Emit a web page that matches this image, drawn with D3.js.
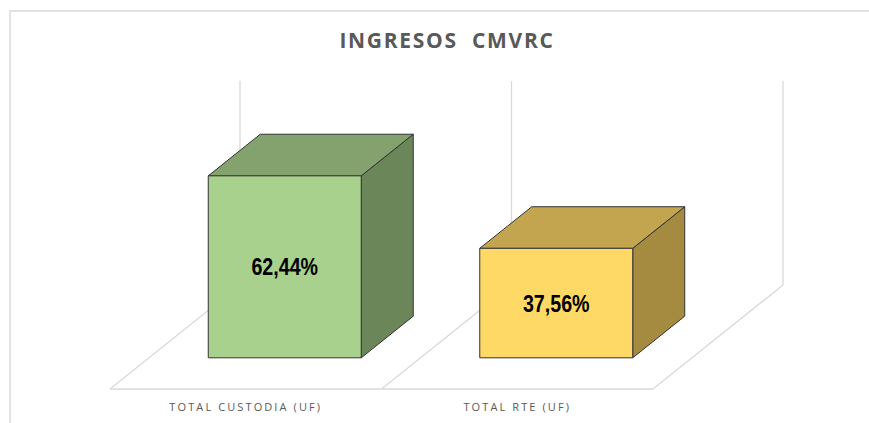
<!DOCTYPE html>
<html>
<head>
<meta charset="utf-8">
<script src="https://cdn.jsdelivr.net/npm/d3@7"></script>
<style>
  html, body { margin: 0; padding: 0; background: #fff; }
  svg { display: block; }
</style>
</head>
<body>
<script>
// Data
var categories = ["TOTAL CUSTODIA (UF)", "TOTAL RTE (UF)"];
var shares = [62.44, 37.56];
var shareLabels = ["62,44%", "37,56%"];
var frontColors = ["#a9d18e", "#ffd966"];
var topColors = ["#84a26e", "#c2a54e"];
var sideColors = ["#6b8759", "#a48b3f"];
var axisMax = 70;

var width = 869, height = 423;

var svg = d3.select("body").append("svg")
    .attr("width", width)
    .attr("height", height);

// chart area border (only top and left show in the crop)
svg.append("path")
    .attr("d", "M10,430 L10,11 L880,11")
    .attr("fill", "none")
    .attr("stroke", "#d9d9d9")
    .attr("stroke-width", 1.5);

// oblique 3d projection: x along floor front, h = value height, z = depth 0..1
var floorY = 389;
var depthX = 130, depthY = 104;
function project(x, h, z) {
  return [x + z * depthX, floorY - h - z * depthY];
}

var x = d3.scaleBand()
    .domain(categories)
    .range([110, 653])
    .paddingInner(0.4365)
    .paddingOuter(0.4365 / 2);

var y = d3.scaleLinear()
    .domain([0, axisMax])
    .range([0, 204]);

var line = d3.line();
var step = x.step();
var bounds = [110, 110 + step, 653];

// floor and back wall lines
var grid = svg.append("g")
    .attr("fill", "none")
    .attr("stroke", "#d9d9d9")
    .attr("stroke-width", 1.3);

grid.append("path").attr("d", line([project(110, 0, 0), project(653, 0, 0)]));
bounds.forEach(function(b) {
  grid.append("path").attr("d", line([project(b, 0, 0), project(b, 0, 1)]));
  grid.append("path").attr("d", line([project(b, 0, 1), project(b, y(axisMax), 1)]));
});

// 3d bars
var z0 = 0.3, z1 = 0.7;
var bars = svg.selectAll(".bar")
    .data(categories)
    .enter()
    .append("g")
      .attr("class", "bar")
      .attr("stroke", "#333")
      .attr("stroke-width", 1)
      .attr("stroke-linejoin", "round");

bars.each(function(c, i) {
  var g = d3.select(this);
  var xl = x(c), xr = x(c) + x.bandwidth(), h = y(shares[i]);
  // side
  g.append("path")
      .attr("fill", sideColors[i])
      .attr("d", line([project(xr, 0, z0), project(xr, 0, z1), project(xr, h, z1), project(xr, h, z0)]) + "Z");
  // top
  g.append("path")
      .attr("fill", topColors[i])
      .attr("d", line([project(xl, h, z0), project(xl, h, z1), project(xr, h, z1), project(xr, h, z0)]) + "Z");
  // front
  g.append("path")
      .attr("fill", frontColors[i])
      .attr("d", line([project(xl, 0, z0), project(xr, 0, z0), project(xr, h, z0), project(xl, h, z0)]) + "Z");
  // value label in middle of the front face (condensed like Arial Narrow)
  var c0 = project(xl + x.bandwidth() / 2, h / 2, z0);
  g.append("text")
      .attr("transform", "translate(" + c0[0] + "," + c0[1] + ") scale(0.82,1)")
      .attr("dy", "0.36em")
      .attr("text-anchor", "middle")
      .attr("stroke", "none")
      .attr("fill", "#000")
      .style("font-family", "'Liberation Sans', Arial, sans-serif")
      .style("font-weight", "bold")
      .style("font-size", "24px")
      .text(shareLabels[i]);
});

// category labels
svg.selectAll(".cat")
    .data(categories)
    .enter()
    .append("text")
      .attr("class", "cat")
      .attr("x", function(d) { return x(d) + x.bandwidth() / 2; })
      .attr("y", 411)
      .attr("text-anchor", "middle")
      .attr("fill", "#595959")
      .style("font-family", "'Open Sans', sans-serif")
      .style("font-size", "11px")
      .style("letter-spacing", "2.1px")
      .text(function(d) { return d; });

// title
svg.append("text")
    .attr("x", 447)
    .attr("y", 48)
    .attr("text-anchor", "middle")
    .attr("fill", "#595959")
    .style("font-family", "'Open Sans', sans-serif")
    .style("font-weight", "bold")
    .style("font-size", "21px")
    .style("letter-spacing", "1.7px")
    .style("white-space", "pre")
    .text("INGRESOS  CMVRC");
</script>
</body>
</html>
